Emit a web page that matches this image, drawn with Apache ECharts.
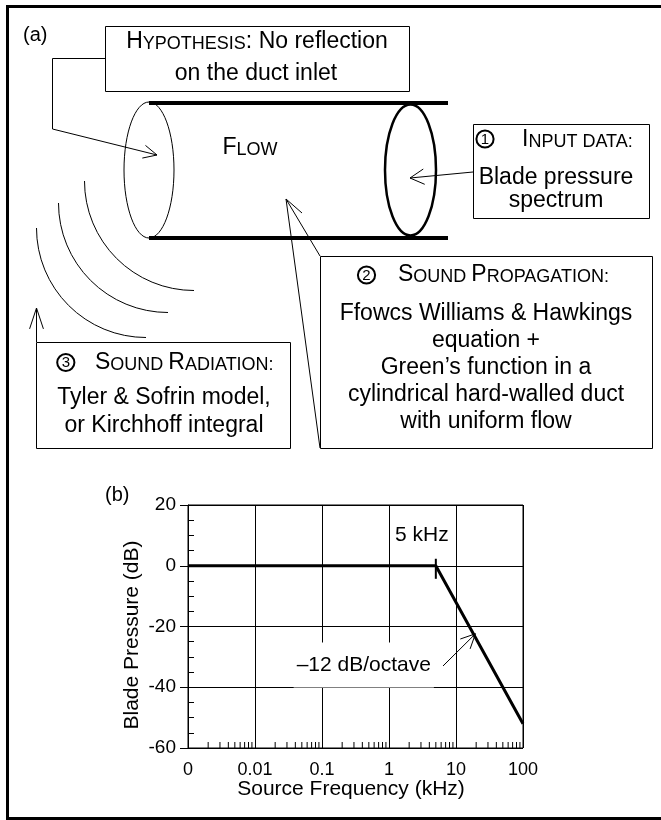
<!DOCTYPE html>
<html>
<head>
<meta charset="utf-8">
<script src="https://cdn.jsdelivr.net/npm/echarts@6/dist/echarts.min.js"></script>
<style>
html,body{margin:0;padding:0;background:#fff;}
#c{width:661px;height:820px;}
</style>
</head>
<body>
<div id="c"></div>
<script>
// ---------- data ----------
const xTickValues = [0.001, 0.01, 0.1, 1, 10, 100];
const xTickLabels = ['0', '0.01', '0.1', '1', '10', '100'];
const freq = [0.001, 5, 100];            // kHz
const bladePressure = [0, 0, -52];       // dB
const cornerFreq = 5;                    // kHz
const cornerLabel = '5 kHz';
const slopeLabel = '\u201312 dB/octave';
const xAxisTitle = 'Source Frequency (kHz)';
const yAxisTitle = 'Blade Pressure (dB)';
// annotation anchors (data coordinates)
const cornerLabelAt = [1.23, 10];
const slopeLabelAt = [0.42, -32.7];
const slopeArrowTail = [6.4, -33];
const slopeArrowTip = [19.5, -22.4];
// diagram texts
const hypothesisLines = ['{b|H}{s|YPOTHESIS}{b|: No reflection}', 'on the duct inlet'];
const flowLabel = '{b|F}{s|LOW}';
const inputTitle = '{b|I}{s|NPUT DATA:}';
const inputLines = ['Blade pressure', 'spectrum'];
const propTitle = '{b|S}{s|OUND }{b|P}{s|ROPAGATION:}';
const propLines = ['Ffowcs Williams & Hawkings', 'equation +', 'Green\u2019s function in a', 'cylindrical hard-walled duct', 'with uniform flow'];
const radTitle = '{b|S}{s|OUND }{b|R}{s|ADIATION:}';
const radLines = ['Tyler & Sofrin model,', 'or Kirchhoff integral'];

// minor tick positions on the log axis (2..9 in each decade)
const xMinorTicks = [];
for (let e = -3; e <= 1; e++) {
  for (let m = 2; m <= 9; m++) xMinorTicks.push(Number((m * Math.pow(10, e)).toPrecision(6)));
}

const FONT = "'Liberation Sans', Arial, Helvetica, sans-serif";
const chart = echarts.init(document.getElementById('c'), null, {renderer: 'canvas', width: 661, height: 820});

const option = {
  animation: false,
  backgroundColor: '#fff',
  grid: {left: 188, top: 505, right: 138, bottom: 72, show: true, borderColor: '#000', borderWidth: 1,
         backgroundColor: 'transparent', containLabel: false, outerBoundsMode: 'none'},
  xAxis: {
    type: 'log', logBase: 10, min: 0.001, max: 100,
    axisLine: {show: true, lineStyle: {color: '#000', width: 1}},
    axisTick: {show: true, length: 7, lineStyle: {color: '#000', width: 1}},
    axisLabel: {show: true, color: '#000', fontFamily: FONT, fontSize: 18, margin: 13,
      showMinLabel: true, showMaxLabel: true,
      formatter: function (v) {
        const i = xTickValues.findIndex(t => Math.abs(Math.log10(t) - Math.log10(v)) < 1e-6);
        return i >= 0 ? xTickLabels[i] : '';
      }},
    splitLine: {show: true, lineStyle: {color: '#000', width: 1}},
    minorTick: {show: false}
  },
  yAxis: [
    {type: 'value', min: -60, max: 20, interval: 20, position: 'left',
     axisLine: {show: true, lineStyle: {color: '#000', width: 1}},
     axisTick: {show: true, length: 8, lineStyle: {color: '#000', width: 1}},
     axisLabel: {color: '#000', fontFamily: FONT, fontSize: 19, margin: 12},
     splitLine: {show: true, lineStyle: {color: '#000', width: 1}}},
    {type: 'value', min: -60, max: 20, interval: 20, position: 'left',
     axisLine: {show: false}, axisTick: {show: false, inside: true},
     axisLabel: {show: false}, splitLine: {show: false},
     minorTick: {show: true, splitNumber: 4, length: 6, lineStyle: {color: '#000', width: 1}}}
  ],
  series: [
    {type: 'line', xAxisIndex: 0, yAxisIndex: 0, data: freq.map((f, i) => [f, bladePressure[i]]),
     symbol: 'none', lineStyle: {color: '#000', width: 3}, z: 5, silent: true},
    {type: 'custom', xAxisIndex: 0, yAxisIndex: 0, data: xMinorTicks.map(v => [v, -60]), silent: true, z: 4, clip: false,
     renderItem: function (params, api) {
       const p = api.coord([api.value(0), api.value(1)]);
       return {type: 'line', shape: {x1: p[0], y1: p[1], x2: p[0], y2: p[1] - 6},
               style: {stroke: '#000', lineWidth: 1}};
     }}
  ]
};
chart.setOption(option);

// ---------- graphics ----------
const G = [];
const Z = 100;
function ln(x1, y1, x2, y2, w) {
  G.push({type: 'line', z: Z, shape: {x1, y1, x2, y2}, style: {stroke: '#000', lineWidth: w || 1, fill: null}});
}
function poly(pts, w) {
  G.push({type: 'polyline', z: Z, shape: {points: pts}, style: {stroke: '#000', lineWidth: w || 1, fill: null}});
}
function head(tail, tip, len, ang, w) {
  const a = Math.atan2(tail[1] - tip[1], tail[0] - tip[0]);
  poly([[tip[0] + len * Math.cos(a + ang), tip[1] + len * Math.sin(a + ang)], tip,
        [tip[0] + len * Math.cos(a - ang), tip[1] + len * Math.sin(a - ang)]], w);
}
function rect(x, y, w, h) {
  G.push({type: 'rect', z: Z, shape: {x, y, width: w, height: h}, style: {stroke: '#000', lineWidth: 1, fill: 'none'}});
}
const RICH = {
  b: {fontSize: 23, fontFamily: FONT, verticalAlign: 'bottom'},
  s: {fontSize: 18, fontFamily: FONT, verticalAlign: 'bottom'}
};
function txt(x, y, text, opts) {
  G.push({type: 'text', z: Z + 1, x, y, style: Object.assign({text, fill: '#000', fontFamily: FONT, fontSize: 23,
    align: 'center', verticalAlign: 'middle', rich: RICH}, opts || {})});
}
function circNum(cx, cy, d) {
  G.push({type: 'circle', z: Z, shape: {cx, cy, r: 8.6}, style: {stroke: '#000', lineWidth: 2, fill: 'none'}});
  txt(cx, cy + 0.5, d, {fontSize: 15});
}

// outer frame
poly([[664, 6.5], [7.5, 6.5], [7.5, 818.5], [664, 818.5]], 3);

// (a) label
txt(23, 35, '(a)', {fontSize: 20, align: 'left'});

// duct
ln(149, 103, 448, 103, 4);
ln(149, 238, 448, 238, 4);
G.push({type: 'ellipse', z: Z, shape: {cx: 149, cy: 170, rx: 25, ry: 68}, style: {stroke: '#000', lineWidth: 1, fill: 'none'}});
G.push({type: 'ellipse', z: Z, shape: {cx: 410.5, cy: 170, rx: 25.5, ry: 65.5}, style: {stroke: '#000', lineWidth: 2.5, fill: 'none'}});
txt(250, 148, flowLabel);

// sound waves
[[194, 181], [168, 203], [146, 228]].forEach(c => {
  G.push({type: 'arc', z: Z, shape: {cx: c[0], cy: c[1], r: 109.5, startAngle: Math.PI / 2, endAngle: Math.PI, clockwise: true},
          style: {stroke: '#000', lineWidth: 1, fill: 'none'}});
});

// hypothesis box
rect(105.5, 26.5, 304, 65);
txt(257, 41.5, hypothesisLines[0]);
txt(256, 73.5, hypothesisLines[1]);
poly([[105, 58.5], [52.5, 58.5], [52.5, 129], [157, 155]], 1);
head([52.5, 129], [157, 155], 15, 0.45, 1);

// input data box
rect(473.5, 124.5, 176, 94);
circNum(485, 139, '1');
txt(522, 139.5, inputTitle, {align: 'left'});
txt(556, 178, inputLines[0]);
txt(556, 201, inputLines[1]);
ln(473, 172, 410, 178, 1);
head([473, 172], [410, 178], 16, 0.5, 1);

// propagation box
rect(320.5, 256.5, 332, 192);
circNum(366.5, 275, '2');
txt(398, 275, propTitle, {align: 'left'});
propLines.forEach((s, i) => txt(486, 314 + 27 * i, s));
ln(286, 199, 320, 256, 1);
ln(286, 199, 320, 448, 1);
ln(286, 199, 302, 213, 1);

// radiation box
rect(36.5, 342.5, 254, 106);
circNum(65.8, 362.5, '3');
txt(95, 362.5, radTitle, {align: 'left'});
txt(164, 397.5, radLines[0]);
txt(164, 425.5, radLines[1]);
ln(36.5, 342, 36.5, 308, 1);
head([36.5, 342], [36.5, 308], 22, 0.32, 1);

// (b) chart labels
txt(105, 495, '(b)', {fontSize: 20, align: 'left'});
txt(132, 635, yAxisTitle, {fontSize: 21});
G[G.length - 1].rotation = Math.PI / 2;
txt(351, 789, xAxisTitle, {fontSize: 21});

// chart annotations via the axes' scales
const F = {xAxisIndex: 0, yAxisIndex: 0};
const px = v => chart.convertToPixel(F, v);
const t1 = px([cornerFreq, 2.3]), t2 = px([cornerFreq, -4.3]);
ln(t1[0], t1[1], t2[0], t2[1], 2);
const cl = px(cornerLabelAt);
txt(cl[0], cl[1], cornerLabel, {fontSize: 21, align: 'left'});
const sl = px(slopeLabelAt);
txt(sl[0], sl[1], slopeLabel, {fontSize: 21, backgroundColor: '#fff', padding: [12, 3]});
const at = px(slopeArrowTail), ap = px(slopeArrowTip);
ln(at[0], at[1], ap[0], ap[1], 1);
head(at, ap, 16, 0.45, 1);

chart.setOption({graphic: {elements: G}});
</script>
</body>
</html>
